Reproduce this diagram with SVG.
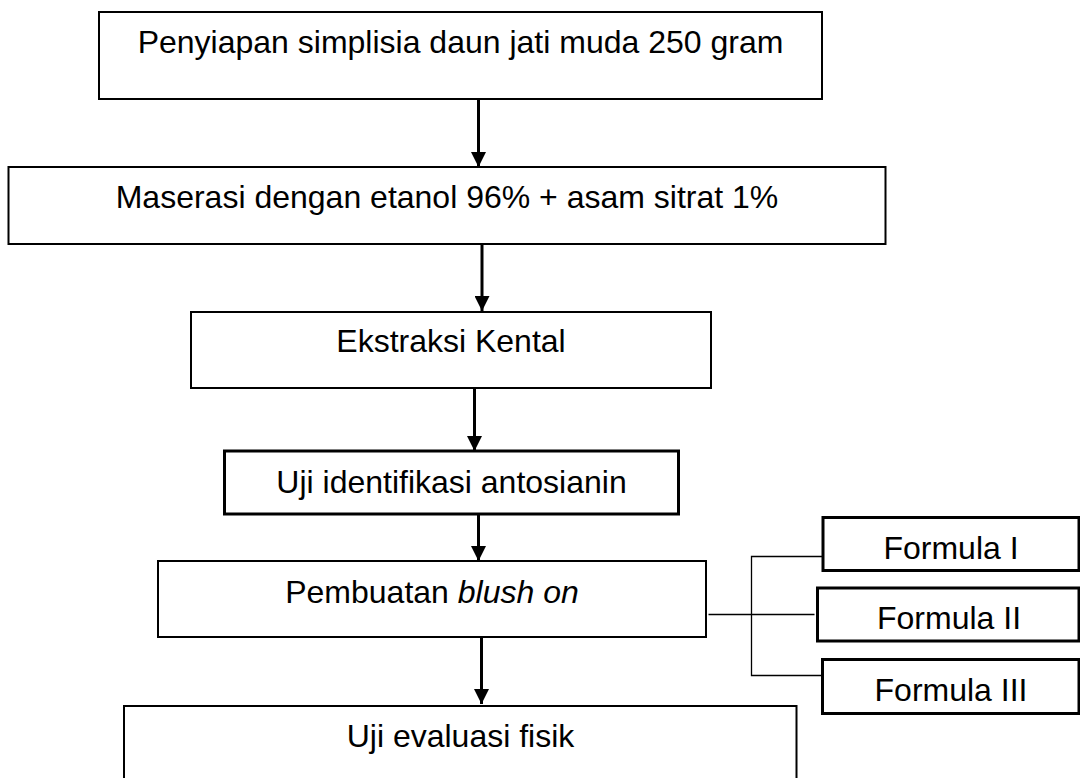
<svg xmlns="http://www.w3.org/2000/svg" width="1080" height="778" viewBox="0 0 1080 778">
<defs>
<marker id="ah" viewBox="0 0 10 10" refX="10" refY="5" markerWidth="5" markerHeight="5" markerUnits="strokeWidth" orient="auto">
<path d="M0,0 L10,5 L0,10 z" fill="#000"/>
</marker>
<style>
.box{fill:#fff;stroke:#000;stroke-width:2}
.thick{stroke-width:3}
.t{font-family:"Liberation Sans",Arial,sans-serif;font-size:32px;fill:#000;text-anchor:middle}
.arr{stroke:#000;stroke-width:3;fill:none;marker-end:url(#ah)}
.thin{stroke:#000;stroke-width:1.3;fill:none}
</style>
</defs>
<rect width="1080" height="778" fill="#fff"/>
<g id="n1"><rect class="box" x="99" y="12" width="723" height="87"/><text class="t" x="460.5" y="53">Penyiapan simplisia daun jati muda 250 gram</text></g>
<g id="n2"><rect class="box" x="8.5" y="167" width="877" height="77"/><text class="t" x="447" y="208">Maserasi dengan etanol 96% + asam sitrat 1%</text></g>
<g id="n3"><rect class="box" x="191" y="312" width="520" height="76"/><text class="t" x="451" y="352">Ekstraksi Kental</text></g>
<g id="n4"><rect class="box thick" x="224.5" y="451" width="454" height="63"/><text class="t" x="451.5" y="493">Uji identifikasi antosianin</text></g>
<g id="n5"><rect class="box" x="158" y="561" width="548" height="76"/><text class="t" x="432" y="603">Pembuatan <tspan font-style="italic">blush on</tspan></text></g>
<g id="n6"><rect class="box" x="124" y="706" width="672.5" height="90"/><text class="t" x="460.5" y="747">Uji evaluasi fisik</text></g>
<g id="f1"><rect class="box thick" x="823" y="517.5" width="256" height="53"/><text class="t" x="951" y="558.5">Formula I</text></g>
<g id="f2"><rect class="box thick" x="817.5" y="588" width="261.5" height="53"/><text class="t" x="949" y="628.5">Formula II</text></g>
<g id="f3"><rect class="box thick" x="822.5" y="659.5" width="256.5" height="54"/><text class="t" x="951" y="701">Formula III</text></g>
<g id="connectors">
<line class="arr" x1="478.5" y1="100" x2="478.5" y2="167"/>
<line class="arr" x1="482" y1="245" x2="482" y2="311"/>
<line class="arr" x1="474.5" y1="389" x2="474.5" y2="451"/>
<line class="arr" x1="478.5" y1="515" x2="478.5" y2="561"/>
<line class="arr" x1="481.5" y1="638" x2="481.5" y2="704"/>
<path class="thin" d="M708.5,614.5 H814.5"/>
<path class="thin" d="M823,556.5 H751.5 V675.5 H822.5"/>
</g>
</svg>
